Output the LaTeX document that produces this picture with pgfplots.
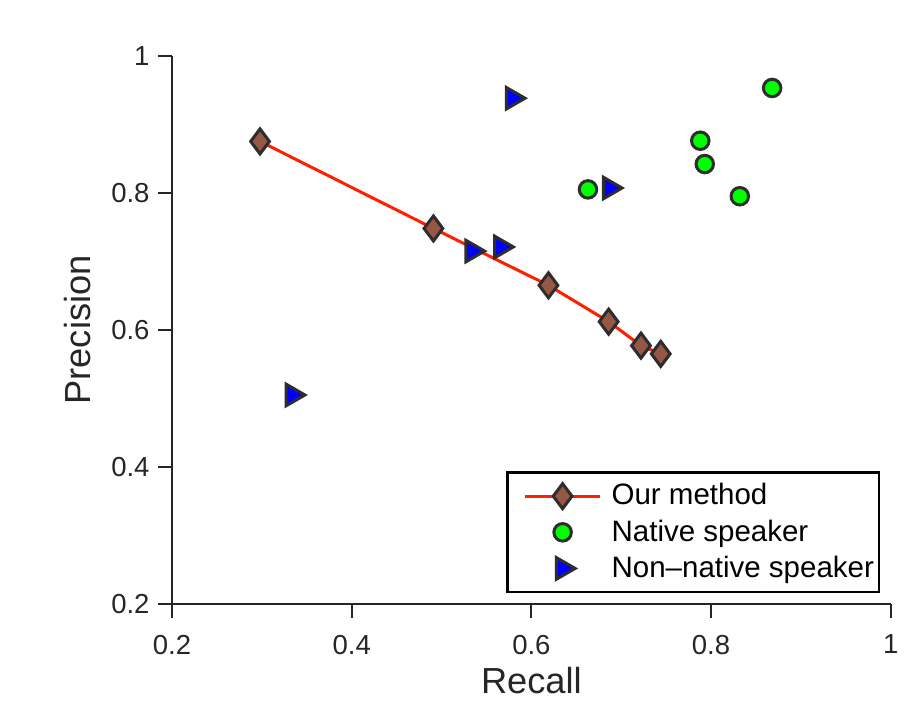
\documentclass[border=0pt]{standalone}
\usepackage{pgfplots}
\pgfplotsset{compat=1.18}
\usepackage{fontspec}
\setmainfont{Liberation Sans}
\definecolor{ourline}{RGB}{255,30,0}
\definecolor{diafill}{RGB}{150,88,68}
\definecolor{edge}{RGB}{45,45,45}
\definecolor{txt}{RGB}{38,38,38}
\begin{document}
\begin{tikzpicture}
\begin{axis}[
    name=ax,
    scale only axis, width=287.5pt, height=219.3pt,
    xmin=0.2, xmax=1, ymin=0.2, ymax=1,
    xtick={0.2,0.4,0.6,0.8,1}, ytick={0.2,0.4,0.6,0.8,1},
    axis x line=bottom, axis y line=left,
    axis line style={-, line width=0.8pt, txt},
    tick align=outside, major tick length=5.6pt,
    tick style={line width=0.8pt, txt},
    /pgf/number format/assume math mode=true,
    tick label style={font=\fontsize{11}{12}\selectfont, text=txt},
    xticklabel style={anchor=north, inner sep=0pt, yshift=-6.6pt},
    yticklabel style={anchor=east, inner sep=0pt, xshift=-3.2pt},
    xlabel={Recall}, ylabel={Precision},
    label style={font=\fontsize{14.5}{16}\selectfont, text=txt},
    xlabel style={at={(axis description cs:0.5,-0.139)}, anchor=center},
    ylabel style={at={(axis description cs:-0.1315,0.5)}, anchor=center, rotate=0},
    legend style={at={(rel axis cs:1,0)}, anchor=south east, xshift=-4.2pt, yshift=4.3pt,
        draw=black, line width=1pt, font=\fontsize{11.8}{14}\selectfont,
        inner xsep=2pt, inner ysep=2.4pt, row sep=0.4pt,
        nodes={inner xsep=0pt},
        /tikz/every odd column/.append style={column sep=4pt}},
    legend cell align={left},
    legend image code/.code={\path (-4.4pt,0pt);
        \draw[mark repeat=2, mark phase=2, #1]
        plot coordinates {(0pt,0pt) (15pt,0pt) (30pt,0pt)};},
    clip=false,
]
\addplot[ourline, line width=1.2pt, mark=diamond*, mark size=5pt,
    mark options={fill=diafill, draw=edge, line width=1.2pt, solid}] coordinates {
(0.298,0.875) (0.491,0.748) (0.619,0.665) (0.686,0.612) (0.722,0.577) (0.744,0.565)
};
\addlegendentry{Our method}
\addplot[only marks, mark=*, mark size=3.5pt,
    mark options={fill=green, draw=edge, line width=1.2pt}] coordinates {
(0.868,0.953) (0.788,0.876) (0.793,0.842) (0.832,0.795) (0.663,0.805)
};
\addlegendentry{Native speaker}
\addplot[only marks, mark=triangle*, mark size=5pt,
    mark options={fill=blue, draw=edge, line width=1.2pt, rotate=-90}] coordinates {
(0.579,0.938) (0.687,0.807) (0.534,0.715) (0.566,0.721) (0.334,0.505)
};
\addlegendentry{Non\textendash native speaker}
\coordinate (o) at (rel axis cs:0,0);
\end{axis}
\path (o) ++(-68.8pt,-39.6pt) rectangle ++(367.6pt,281.2pt);
\end{tikzpicture}
\end{document}
